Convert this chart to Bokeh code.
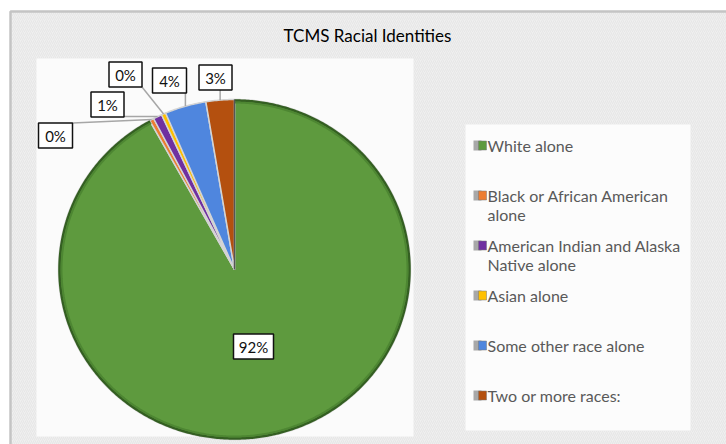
import math
import textwrap
from bokeh.plotting import figure
from bokeh.models import Range1d
from bokeh.core.properties import value
from bokeh.embed import file_html
from bokeh.resources import INLINE

# ---- data ----
title = "TCMS Racial Identities"
categories = ["White alone", "Black or African American alone",
              "American Indian and Alaska Native alone", "Asian alone",
              "Some other race alone", "Two or more races:"]
shares = [92.0, 0.4, 0.8, 0.4, 3.8, 2.6]
pct_labels = ["92%", "0%", "1%", "0%", "4%", "3%"]

# ---- styles / layout ----
colors = ["#5e9a3e", "#ed7d31", "#7030a0", "#ffc000", "#4f86de", "#b4500f"]
W, H = 726, 444
FONT = value("Lato")


def Y(y):
    return H - y


# label box centres (pixel coords from top-left)
label_pos = [(253, 346), (55, 135), (107, 104), (125, 74), (169, 80), (215, 77)]
label_w = [40, 34, 33, 33, 34, 33]
label_h = 25

p = figure(width=W, height=H, x_range=Range1d(0, W), y_range=Range1d(0, H),
           output_backend="svg", toolbar_location=None, min_border=0,
           x_axis_type=None, y_axis_type=None)
p.grid.visible = False
p.outline_line_color = None
p.background_fill_color = "white"
p.border_fill_color = "white"

# chart area background
p.quad(left=[10], right=[W + 5], top=[Y(11)], bottom=[-5],
       fill_color="#efefef", line_color="#c4c4c4", line_width=2.5,
       hatch_pattern="right_diagonal_line", hatch_color="#e3e3e3",
       hatch_scale=4, hatch_weight=0.8)
# plot area
p.quad(left=[36], right=[413], top=[Y(58)], bottom=[Y(436)],
       fill_color="#fbfbfb", line_color=None)
# legend box
p.quad(left=[465], right=[690], top=[Y(124)], bottom=[Y(430)],
       fill_color="#fcfcfc", line_color=None)

# title
p.text(x=[367], y=[Y(35)], text=[title], text_font=FONT, text_font_size="17px",
       text_color="#000000", text_align="center", text_baseline="middle")

# pie (slightly elliptical, as in the original 3-D view)
cx, cy, rx, ry = 234, Y(269), 176, 170
total = sum(shares)
starts, ends, mids = [], [], []
c = 0.0
for s in shares:
    a0 = math.pi / 2 - 2 * math.pi * c / total
    c += s
    a1 = math.pi / 2 - 2 * math.pi * c / total
    starts.append(a1)
    ends.append(a0)
    mids.append((a0 + a1) / 2)


def arc_pts(a_start, a_end, kx=rx, ky=ry):
    n = max(4, int(abs(a_end - a_start) / 0.01))
    return ([cx + kx * math.cos(a_start + (a_end - a_start) * k / n) for k in range(n + 1)],
            [cy + ky * math.sin(a_start + (a_end - a_start) * k / n) for k in range(n + 1)])


xs, ys = [], []
for a0, a1 in zip(starts, ends):
    ax, ay = arc_pts(a0, a1)
    xs.append([cx] + ax)
    ys.append([cy] + ay)

p.patches(xs=xs, ys=ys, fill_color=colors, line_color="#d4d4d4", line_width=1.5)
# dark rim on the large slice
rx1, ry1 = arc_pts(starts[0], ends[0], rx - 1, ry - 1)
p.line(rx1, ry1, line_color="#345f22", line_width=2.5)
rx2, ry2 = arc_pts(starts[0], ends[0], rx - 3, ry - 3)
p.line(rx2, ry2, line_color="#4d8632", line_width=2)
# dark line at 12 o'clock
p.segment(x0=[cx], y0=[cy], x1=[cx], y1=[cy + ry], line_color="#555555", line_width=1.5)

# leader lines
for i in range(1, len(shares)):
    tx = cx + rx * math.cos(mids[i])
    ty = cy + ry * math.sin(mids[i])
    bx, by = label_pos[i]
    by = Y(by)
    hw, hh = label_w[i] / 2, label_h / 2
    px = min(max(tx, bx - hw), bx + hw)
    py = min(max(ty, by - hh), by + hh)
    p.segment(x0=[px], y0=[py], x1=[tx], y1=[ty], line_color="#a6a6a6", line_width=1.5)

# label boxes
p.rect(x=[q[0] for q in label_pos], y=[Y(q[1]) for q in label_pos],
       width=label_w, height=label_h, fill_color="white",
       line_color="#111111", line_width=1.5)
p.text(x=[q[0] for q in label_pos], y=[Y(q[1]) for q in label_pos],
       text=pct_labels, text_font=FONT, text_font_size="15px",
       text_color="#111111", text_align="center", text_baseline="middle")

# legend
for i, cat in enumerate(categories):
    y0 = 145 + 50 * i
    p.rect(x=[477], y=[Y(y0)], width=8, height=10, fill_color="#a8a8a8", line_color=None)
    p.rect(x=[482], y=[Y(y0)], width=8, height=9, fill_color=colors[i],
           line_color="#777777", line_width=0.5)
    for j, line in enumerate(textwrap.wrap(cat, 26)):
        p.text(x=[487], y=[Y(y0 + 19 * j)], text=[line], text_font=FONT,
               text_font_size="16px", text_color="#595959",
               text_align="left", text_baseline="middle")

open("out.html", "w").write(file_html(p, INLINE))
